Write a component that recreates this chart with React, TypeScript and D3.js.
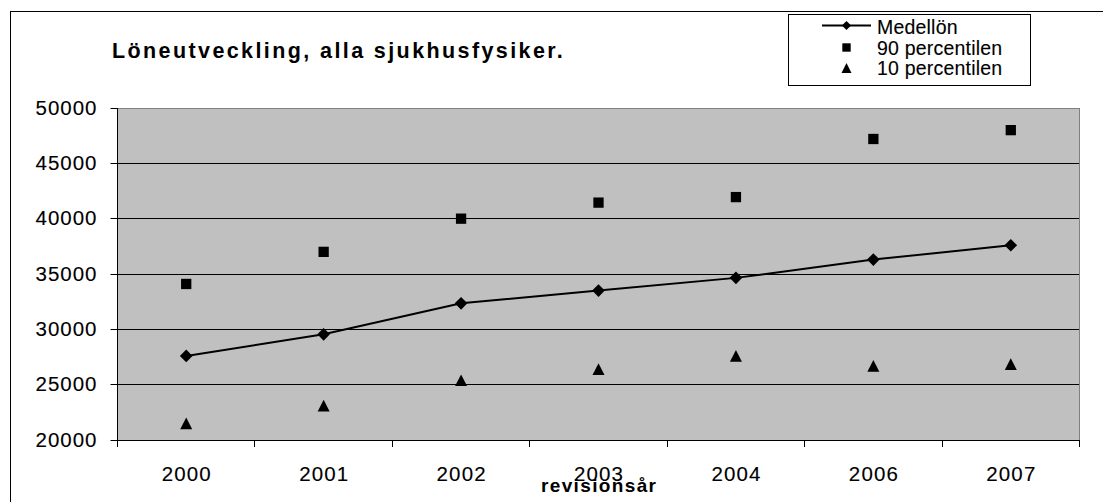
import React from "react";
import * as d3 from "d3";

// Revision years on the category axis (2005 is not part of the series)
const years = ["2000", "2001", "2002", "2003", "2004", "2006", "2007"];
// Average salary per revision year
const medellon = [27600, 29550, 32350, 33500, 34650, 36300, 37600];
// 90th percentile
const p90 = [34100, 37000, 40000, 41450, 41950, 47200, 48000];
// 10th percentile
const p10 = [21500, 23100, 25400, 26400, 27600, 26700, 26850];
// Value axis ticks
const yTicks = [20000, 25000, 30000, 35000, 40000, 45000, 50000];

const legendItems = ["Medellön", "90 percentilen", "10 percentilen"];

const W = 1103;
const H = 502;
const FONT = "'Liberation Sans', Arial, Helvetica, sans-serif";

export default function App() {
  const x = d3.scaleBand<string>().domain(years).range([117.5, 1079.5]);
  const y = d3.scaleLinear().domain([20000, 50000]).range([440, 108]);
  const cx = (i: number) => (x(years[i]) as number) + x.bandwidth() / 2;
  const crisp = (v: number) => Math.round(v - 0.5) + 0.5;

  const line = d3
    .line<number>()
    .x((_, i) => cx(i))
    .y((d) => y(d));

  const diamond = d3.symbol().type(d3.symbolSquare).size(80)();
  const square = d3.symbol().type(d3.symbolSquare).size(106)();
  const tri = (px: number, py: number, w: number, h: number) => {
    const p = d3.path();
    p.moveTo(px - w / 2, py + h / 2);
    p.lineTo(px, py - h / 2);
    p.lineTo(px + w / 2, py + h / 2);
    p.closePath();
    return p.toString();
  };

  const [x0, x1] = x.range();
  const [yb, yt] = y.range();
  const boundaries = years.map((yr) => x(yr) as number).concat([x1]);

  const legendX = 788;
  const legendBaselines = [34, 54.5, 75];
  const lmx = 846.5;
  const smallDiamond = d3.symbol().type(d3.symbolSquare).size(42)();
  const smallSquare = d3.symbol().type(d3.symbolSquare).size(70)();

  // a faint outline gives regular text a slightly heavier look
  const ink = { fill: "#000", stroke: "#000", strokeWidth: 0.12 };

  return (
    <svg
      width={W}
      height={H}
      style={{ position: "absolute", left: 0, top: 0, background: "#fff" }}
      fontFamily={FONT}
    >
      {/* chart area frame */}
      <rect x={10.5} y={11.5} width={1200} height={600} fill="#fff" stroke="#000" strokeWidth={1} />

      {/* plot area */}
      <rect x={x0} y={yt} width={x1 - x0} height={yb - yt} fill="#c0c0c0" />
      {yTicks
        .filter((t) => t !== 20000 && t !== 50000)
        .map((t) => (
          <line key={t} x1={x0} x2={x1} y1={crisp(y(t))} y2={crisp(y(t))} stroke="#000" strokeWidth={1} />
        ))}
      <line x1={x0} x2={x1} y1={crisp(yt)} y2={crisp(yt)} stroke="#808080" strokeWidth={1} />
      <line x1={crisp(x1)} x2={crisp(x1)} y1={yt} y2={yb} stroke="#808080" strokeWidth={1} />

      {/* value axis */}
      <line x1={crisp(x0)} x2={crisp(x0)} y1={yt} y2={yb + 0.5} stroke="#000" strokeWidth={1} />
      {yTicks.map((t) => (
        <g key={t}>
          <line x1={x0 - 7} x2={x0} y1={crisp(y(t))} y2={crisp(y(t))} stroke="#000" strokeWidth={1} />
          <text
            x={96.5}
            y={y(t) + 6.8}
            textAnchor="end"
            fontSize={20.5}
            textLength={61}
            lengthAdjust="spacing"
            {...ink}
          >
            {t}
          </text>
        </g>
      ))}

      {/* category axis */}
      <line x1={x0} x2={x1 + 0.5} y1={crisp(yb)} y2={crisp(yb)} stroke="#000" strokeWidth={1} />
      {boundaries.map((b, i) => (
        <line key={i} x1={crisp(b)} x2={crisp(b)} y1={yb} y2={yb + 7} stroke="#000" strokeWidth={1} />
      ))}
      {years.map((yr, i) => (
        <text
          key={yr}
          x={cx(i)}
          y={480.5}
          textAnchor="middle"
          fontSize={20.5}
          textLength={49}
          lengthAdjust="spacing"
          {...ink}
        >
          {yr}
        </text>
      ))}
      <text
        x={(x0 + x1) / 2}
        y={492}
        textAnchor="middle"
        fontSize={19}
        fontWeight="bold"
        textLength={115}
        lengthAdjust="spacing"
        fill="#000"
      >
        revisionsår
      </text>

      {/* title */}
      <text x={112} y={57.5} fontSize={21.5} fontWeight="bold" letterSpacing={2.4} fill="#000">
        Löneutveckling, alla sjukhusfysiker.
      </text>

      {/* series */}
      <path d={line(medellon) as string} fill="none" stroke="#000" strokeWidth={2} />
      {medellon.map((v, i) => (
        <path key={"m" + i} d={diamond as string} transform={`translate(${cx(i)},${y(v)}) rotate(45)`} fill="#000" />
      ))}
      {p90.map((v, i) => (
        <path key={"s" + i} d={square as string} transform={`translate(${cx(i)},${y(v)})`} fill="#000" />
      ))}
      {p10.map((v, i) => (
        <path key={"t" + i} d={tri(cx(i), y(v), 12, 11.7)} fill="#000" />
      ))}

      {/* legend */}
      <rect x={legendX + 0.5} y={14.5} width={1030.5 - legendX - 0.5} height={71} fill="#fff" stroke="#000" strokeWidth={1} />
      <line x1={822} x2={871} y1={legendBaselines[0] - 8.5} y2={legendBaselines[0] - 8.5} stroke="#000" strokeWidth={2} />
      <path d={smallDiamond as string} transform={`translate(${lmx},${legendBaselines[0] - 8.5}) rotate(45)`} fill="#000" />
      <path d={smallSquare as string} transform={`translate(${lmx},${legendBaselines[1] - 7})`} fill="#000" />
      <path d={tri(lmx, legendBaselines[2] - 7, 10, 10)} fill="#000" />
      {legendItems.map((label, i) => (
        <text key={label} x={877} y={legendBaselines[i]} fontSize={19.5} letterSpacing={0.2} {...ink}>
          {label}
        </text>
      ))}
    </svg>
  );
}
